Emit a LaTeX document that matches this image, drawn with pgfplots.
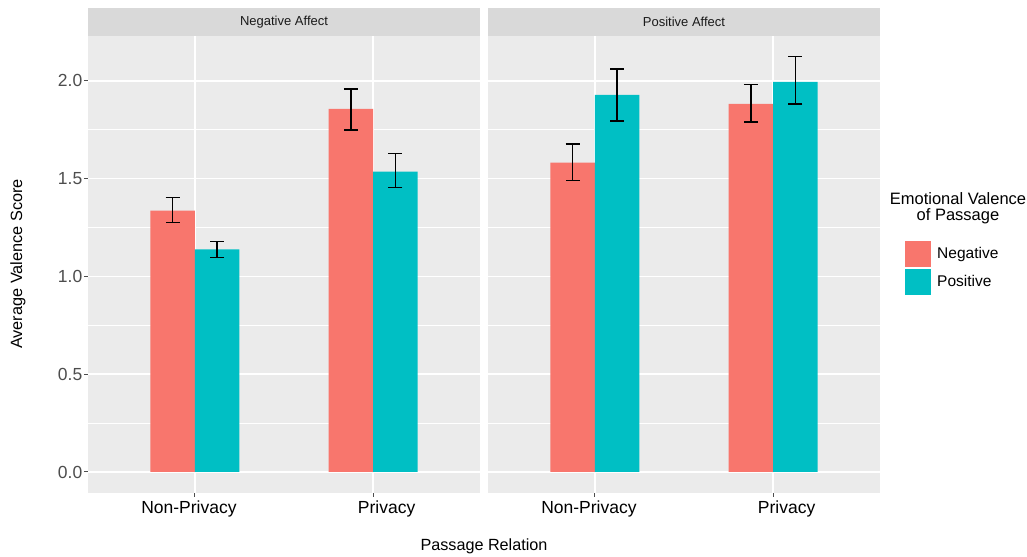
\documentclass[border=0pt]{standalone}
\usepackage{pgfplots}
\pgfplotsset{compat=1.18}
\usepackage{pgfplotstable}
\usepackage{fontspec}
\setmainfont{Liberation Sans}
\definecolor{cneg}{HTML}{F8766D}
\definecolor{cpos}{HTML}{00BFC4}
\definecolor{panelbg}{HTML}{EBEBEB}
\definecolor{stripbg}{HTML}{D9D9D9}
\definecolor{gthirty}{HTML}{4D4D4D}
\definecolor{gten}{HTML}{1A1A1A}

\pgfplotstableread{
x neg negp negm pos posp posm
1 1.337 0.067 0.060 1.138 0.042 0.040
2 1.857 0.102 0.107 1.536 0.092 0.080
}\negaff
\pgfplotstableread{
x neg negp negm pos posp posm
1 1.582 0.095 0.092 1.929 0.131 0.133
2 1.883 0.098 0.092 1.995 0.129 0.114
}\posaff

\pgfplotsset{
  facet/.style={
    width=392bp, height=456.7bp, scale only axis,
    xmin=0.4, xmax=2.6, ymin=-0.106, ymax=2.230,
    clip=false,
    axis background/.style={fill=panelbg},
    axis line style={draw=none},
    xtick={1,2}, xticklabels={\hspace*{-12bp}Non-Privacy,\hspace*{27bp}Privacy},
    ytick={0,0.5,1,1.5,2}, minor ytick={0.25,0.75,1.25,1.75},
    xtick pos=bottom, ytick pos=left,
    xmajorgrids, ymajorgrids, yminorgrids,
    major grid style={white, line width=1.5bp},
    minor grid style={white, line width=0.75bp},
    tick align=outside, major tick length=4bp, minor tick length=0pt,
    tick style={gthirty, line width=1bp},
    /pgf/number format/assume math mode=true,
    yticklabel style={/pgf/number format/fixed, /pgf/number format/fixed zerofill, /pgf/number format/precision=1,
      font=\fontsize{17.5bp}{20bp}\selectfont, text=gthirty, inner sep=1.5bp},
    xticklabel style={font=\fontsize{17.5bp}{20bp}\selectfont, text=black, inner sep=3.5bp},
  },
  errstyle/.style={
    error bars/.cd, y dir=both, y explicit,
    error bar style={black, line width=1.5bp},
    error mark=-,
    error mark options={rotate=90, black, line width=1.5bp, mark size=7bp}},
  negbar/.style={ybar, bar width=0.25, bar shift=0pt, fill=cneg, draw=none, errstyle},
  posbar/.style={ybar, bar width=0.25, bar shift=0pt, fill=cpos, draw=none, errstyle},
}

\begin{document}
\begin{tikzpicture}
\useasboundingbox (0,0) rectangle (1027bp,-557bp);

\begin{axis}[facet, at={(88bp,-492.7bp)}, anchor=south west]
\addplot[negbar] table[x expr=\thisrow{x}-0.125, y=neg, y error plus=negp, y error minus=negm] {\negaff};
\addplot[posbar] table[x expr=\thisrow{x}+0.125, y=pos, y error plus=posp, y error minus=posm] {\negaff};
\fill[stripbg] (rel axis cs:0,1) rectangle ([yshift=28bp]rel axis cs:1,1);
\node[font=\fontsize{13bp}{15bp}\selectfont, text=gten] at ([yshift=14bp]rel axis cs:0.5,1) {Negative Affect};
\end{axis}

\begin{axis}[facet, at={(488bp,-492.7bp)}, anchor=south west,
  yticklabels={}, ytick style={draw opacity=0},
  legend style={at={(1.0638,0.552)}, anchor=north west, draw=none, fill=none,
    inner sep=0pt, row sep=2bp, font=\fontsize{15.5bp}{18bp}\selectfont,
    nodes={inner sep=3bp}},
  legend cell align=left,
  legend image code/.code={\fill[#1] (0bp,-13bp) rectangle (26bp,13bp);}]
\addplot[negbar] table[x expr=\thisrow{x}-0.125, y=neg, y error plus=negp, y error minus=negm] {\posaff};
\addplot[posbar] table[x expr=\thisrow{x}+0.125, y=pos, y error plus=posp, y error minus=posm] {\posaff};
\legend{\hspace{3bp}Negative,\hspace{3bp}Positive}
\fill[stripbg] (rel axis cs:0,1) rectangle ([yshift=28bp]rel axis cs:1,1);
\node[font=\fontsize{13bp}{15bp}\selectfont, text=gten] at ([yshift=14bp]rel axis cs:0.5,1) {Positive Affect};
\end{axis}

\node[font=\fontsize{16.3bp}{19bp}\selectfont, rotate=90] at (18bp,-264bp) {Average Valence Score};
\node[font=\fontsize{16.2bp}{19bp}\selectfont] at (484bp,-546bp) {Passage Relation};
\node[font=\fontsize{16.5bp}{16bp}\selectfont, align=center] at (958bp,-208bp) {Emotional Valence\\of Passage};
\end{tikzpicture}
\end{document}
